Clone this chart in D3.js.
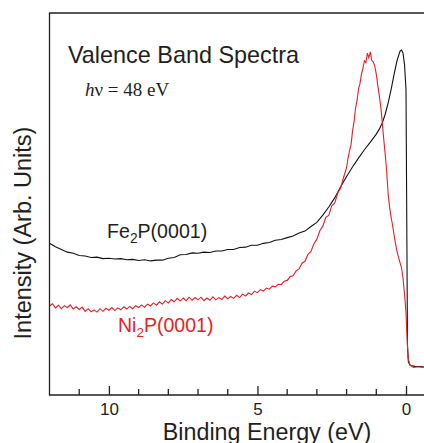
<!DOCTYPE html>
<html><head><meta charset="utf-8">
<script src="https://cdn.jsdelivr.net/npm/d3@7"></script>
<style>body{margin:0;background:#fff}svg{display:block}</style>
</head><body>
<svg id="c" width="424" height="443"></svg>
<script>
// ---- data ----
const xTicksMajor = [10, 5, 0];
const xTicksMinor = [11, 9, 8, 7, 6, 4, 3, 2, 1];
const xTickLabels = ["10", "5", "0"];
const titleText = "Valence Band Spectra";
const xLabel = "Binding Energy (eV)";
const yLabel = "Intensity (Arb. Units)";

// Fe2P(0001): binding energy (eV), intensity (arb.)
const feE = [12.0,11.8,11.6,11.4,11.2,11.0,10.8,10.6,10.4,10.2,10.0,9.8,9.6,9.4,9.2,9.0,8.8,8.6,8.4,8.2,8.0,7.8,7.6,7.4,7.2,7.0,6.8,6.6,6.4,6.2,6.0,5.8,5.6,5.4,5.2,5.0,4.8,4.6,4.4,4.2,4.0,3.8,3.6,3.4,3.2,3.0,2.8,2.6,2.4,2.2,2.0,1.8,1.6,1.4,1.2,1.0,0.9,0.8,0.7,0.6,0.5,0.4,0.3,0.2,0.15,0.1,0.05,0.0,-0.03,-0.05,-0.08,-0.15,-0.3,-0.6];
const feI = [39.7,38.8,38.1,37.4,37.1,36.5,36.4,36.0,36.1,35.7,35.8,35.6,35.7,35.4,35.5,35.2,35.4,35.1,35.3,35.3,35.8,36.0,36.7,36.8,37.2,37.1,37.4,37.3,37.7,37.7,38.1,38.1,38.6,38.7,39.2,39.2,39.7,39.9,40.5,40.7,41.2,41.6,42.4,42.9,44.1,45.2,47.1,49.2,51.6,54.5,57.2,59.7,62.0,64.2,66.2,68.3,69.6,71.2,73.5,76.5,80.0,84.0,87.6,90.0,90.3,89.5,86.5,80.0,40.0,13.0,8.6,7.7,7.5,7.4];

// Ni2P(0001)
const niE = [12.0,11.9,11.8,11.7,11.6,11.5,11.4,11.3,11.2,11.1,11.0,10.9,10.8,10.7,10.6,10.5,10.4,10.3,10.2,10.1,10.0,9.9,9.8,9.7,9.6,9.5,9.4,9.3,9.2,9.1,9.0,8.9,8.8,8.7,8.6,8.5,8.4,8.3,8.2,8.1,8.0,7.9,7.8,7.7,7.6,7.5,7.4,7.3,7.2,7.1,7.0,6.9,6.8,6.7,6.6,6.5,6.4,6.3,6.2,6.1,6.0,5.9,5.8,5.7,5.6,5.5,5.4,5.3,5.2,5.1,5.0,4.9,4.8,4.7,4.6,4.5,4.4,4.3,4.2,4.1,4.0,3.9,3.8,3.7,3.6,3.5,3.4,3.3,3.2,3.1,3.0,2.9,2.8,2.7,2.6,2.5,2.4,2.3,2.2,2.1,2.0,1.95,1.9,1.85,1.8,1.75,1.7,1.65,1.6,1.55,1.5,1.45,1.4,1.35,1.3,1.25,1.2,1.15,1.1,1.05,1.0,0.95,0.9,0.85,0.8,0.75,0.7,0.65,0.6,0.55,0.5,0.45,0.4,0.35,0.3,0.25,0.2,0.15,0.1,0.05,0.0,-0.03,-0.07,-0.13,-0.25,-0.4,-0.6];
const niI = [23.3,23.9,22.8,23.5,22.6,23.4,22.9,23.6,22.5,23.1,22.4,23.0,21.9,22.6,21.8,22.3,21.7,22.6,21.9,22.7,22.2,22.9,22.1,22.8,22.3,23.1,22.5,23.2,22.6,23.4,22.9,23.6,23.0,23.8,23.3,24.1,23.5,24.4,23.8,24.7,24.1,25.0,24.4,25.3,24.6,25.4,24.7,25.6,24.8,25.5,24.9,25.6,24.7,25.4,24.8,25.7,24.9,25.5,25.0,25.9,25.2,25.8,25.3,26.1,25.5,26.4,25.9,26.7,26.3,27.2,26.8,27.6,27.2,28.0,27.7,28.5,28.3,29.0,28.9,29.8,30.0,31.0,31.2,32.5,33.0,34.5,35.0,36.8,37.6,39.6,40.8,43.0,44.2,46.5,47.0,49.5,50.2,52.8,54.2,57.0,59.5,62.0,64.0,65.5,69.0,71.5,75.0,77.0,80.0,81.5,84.0,85.5,87.5,87.0,89.5,88.3,89.8,87.5,87.2,86.0,84.0,81.0,78.5,75.5,71.5,67.0,63.0,58.5,52.5,49.0,46.5,44.3,41.8,39.5,37.5,36.0,34.6,33.3,30.5,26.5,21.5,16.0,9.7,7.9,7.2,7.4,7.2];

// ---- layout ----
const svg = d3.select("#c");
const x = d3.scaleLinear().domain([12, 0]).range([49.5, 406]);
const y = d3.scaleLinear().domain([0, 100]).range([395, 13]);
const ink = "#231f20";
const red = "#ee1c24";
const sans = "Liberation Sans, Arial, sans-serif";

const line = d3.line().x(d => x(d[0])).y(d => y(d[1]));
const fe = feE.map((e, i) => [e, feI[i]]);
const ni = niE.map((e, i) => [e, niI[i]]);

svg.append("path").datum(fe).attr("d", line)
  .attr("fill", "none").attr("stroke", "#111").attr("stroke-width", 1.1);
svg.append("path").datum(ni).attr("d", line)
  .attr("fill", "none").attr("stroke", red).attr("stroke-width", 1.1);

// frame: left and top lines
svg.append("line").attr("x1", 49.5).attr("x2", 49.5).attr("y1", 13).attr("y2", 395.5)
  .attr("stroke", ink).attr("stroke-width", 1.3);
svg.append("line").attr("x1", 49).attr("x2", 424).attr("y1", 13).attr("y2", 13)
  .attr("stroke", ink).attr("stroke-width", 1.3);

// bottom axis
const xAxis = d3.axisBottom(x).tickValues(xTicksMajor)
  .tickFormat((d, i) => xTickLabels[i]).tickSizeInner(-9).tickSizeOuter(0).tickPadding(0);
const gx = svg.append("g").attr("transform", "translate(0,395)").call(xAxis);
gx.select(".domain").remove();
gx.selectAll(".tick line").attr("stroke", ink).attr("stroke-width", 1.3);
gx.selectAll(".tick text").attr("font-family", sans)
  .attr("font-size", 17).attr("fill", ink).attr("dy", 0).attr("y", 20);
svg.append("line").attr("x1", 49).attr("x2", 424).attr("y1", 395).attr("y2", 395)
  .attr("stroke", ink).attr("stroke-width", 1.3);
svg.selectAll(".minor").data(xTicksMinor).enter().append("line")
  .attr("x1", d => x(d)).attr("x2", d => x(d)).attr("y1", 395).attr("y2", 389)
  .attr("stroke", ink).attr("stroke-width", 1.3);

svg.append("text").attr("x", 267).attr("y", 439.5).attr("text-anchor", "middle")
  .attr("font-family", sans).attr("font-size", 23.3).attr("fill", ink).text(xLabel);
svg.append("text").attr("transform", "translate(31,233) rotate(-90)").attr("text-anchor", "middle")
  .attr("font-family", sans).attr("font-size", 23.5).attr("fill", ink).text(yLabel);

svg.append("text").attr("x", 68).attr("y", 63).attr("font-family", sans)
  .attr("font-size", 23.4).attr("fill", ink).text(titleText);

const hv = svg.append("text").attr("x", 85).attr("y", 96)
  .attr("font-family", "Liberation Serif, Times New Roman, serif").attr("font-size", 19).attr("fill", ink);
hv.append("tspan").attr("font-style", "italic").text("h");
hv.append("tspan").text("ν = 48 eV");

function chem(xp, yp, color, a, b, fs) {
  const t = svg.append("text").attr("x", xp).attr("y", yp).attr("font-family", sans)
    .attr("font-size", fs).attr("fill", color);
  t.append("tspan").text(a);
  t.append("tspan").attr("font-size", fs * 0.7).attr("dy", 5).text("2");
  t.append("tspan").attr("dy", -5).text(b);
}
chem(107, 238, ink, "Fe", "P(0001)", 19.6);
chem(118, 332, red, "Ni", "P(0001)", 19.5);
</script>
</body></html>
